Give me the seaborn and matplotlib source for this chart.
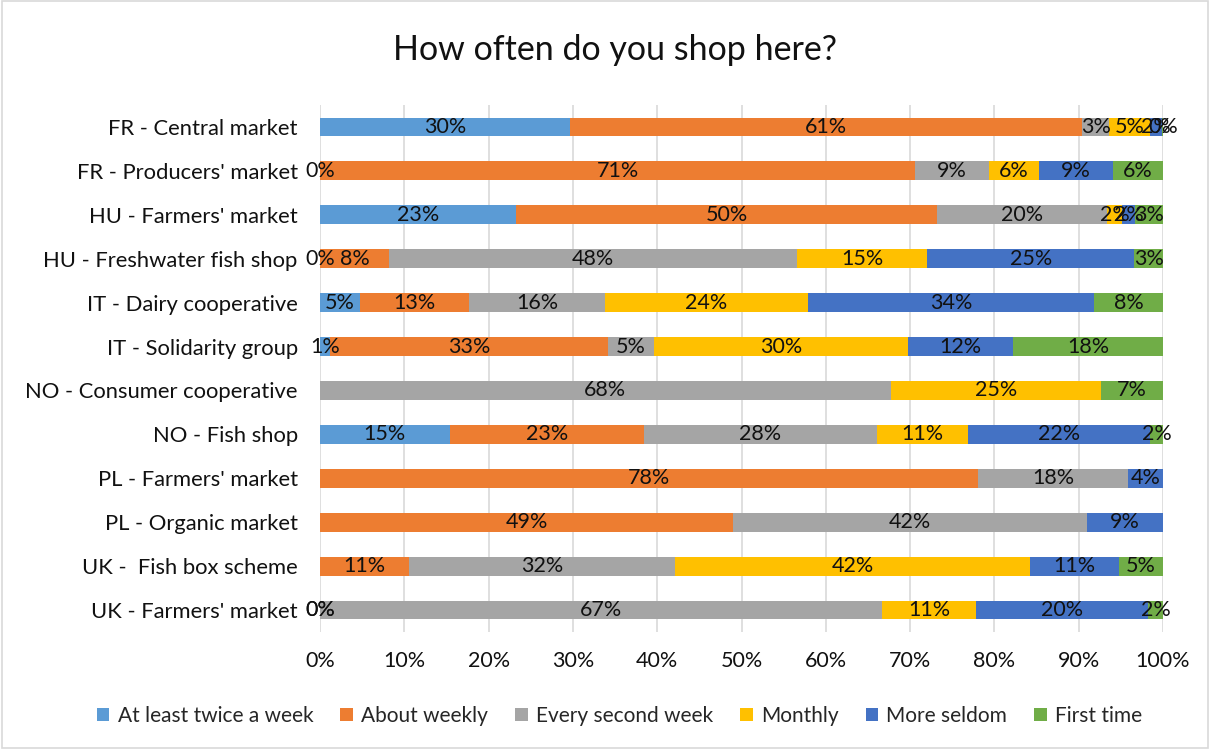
import numpy as np
import pandas as pd
import matplotlib
matplotlib.use("Agg")
import matplotlib.pyplot as plt
import seaborn as sns
from matplotlib.patches import Rectangle, Patch

nan = np.nan

categories = [
    "FR - Central market",
    "FR - Producers' market",
    "HU - Farmers' market",
    "HU - Freshwater fish shop",
    "IT - Dairy cooperative",
    "IT - Solidarity group",
    "NO - Consumer cooperative",
    "NO - Fish shop",
    "PL - Farmers' market",
    "PL - Organic market",
    "UK -  Fish box scheme",
    "UK - Farmers' market",
]
series_names = ["At least twice a week", "About weekly", "Every second week",
                "Monthly", "More seldom", "First time"]
at_least_twice = [29.6, 0.0, 23.3, 0.0, 4.7, 1.2, nan, 15.4, nan, nan, nan, 0.0]
about_weekly = [60.8, 70.6, 49.9, 8.2, 13.0, 33.0, nan, 23.0, 78.0, 49.0, 10.53, 0.0]
every_second = [3.2, 8.8, 20.2, 48.4, 16.1, 5.4, 67.7, 27.7, 17.9, 42.0, 31.58, 66.7]
monthly = [4.8, 5.9, 1.7, 15.4, 24.1, 30.2, 24.9, 10.8, nan, nan, 42.11, 11.1]
more_seldom = [1.5, 8.8, 1.6, 24.6, 33.9, 12.4, nan, 21.6, 4.1, 9.0, 10.53, 20.4]
first_time = [0.2, 5.9, 3.4, 3.4, 8.2, 17.8, 7.4, 1.5, nan, nan, 5.26, 1.8]
colors = ["#5B9BD5", "#ED7D31", "#A5A5A5", "#FFC000", "#4472C4", "#70AD47"]
tick_labels = ["0%", "10%", "20%", "30%", "40%", "50%", "60%", "70%", "80%", "90%", "100%"]

sns.set_theme(style="white")
plt.rcParams["font.family"] = ["Lato", "DejaVu Sans"]

series = [at_least_twice, about_weekly, every_second, monthly, more_seldom, first_time]
vals = np.array(series, dtype=float)  # shape (6, 12)
filled = np.nan_to_num(vals)
cum = np.cumsum(filled, axis=0)

fig = plt.figure(figsize=(12.1, 7.49), dpi=100)
ax = fig.add_axes([320 / 1210, 1 - 632 / 749, (1163 - 320) / 1210, (632 - 105) / 749])

# grid lines
for t in range(0, 101, 10):
    ax.axvline(t, color="#D9D9D9", lw=1.2, zorder=0)

# stacked bars via overlaid cumulative bars (drawn last-to-first)
for i in range(len(series) - 1, -1, -1):
    df = pd.DataFrame({"cat": categories, "val": cum[i]})
    sns.barplot(data=df, x="val", y="cat", orient="h", color=colors[i],
                width=0.43, saturation=1, ax=ax, zorder=2, linewidth=0)

# labels
for i in range(len(series)):
    for j, cat in enumerate(categories):
        v = vals[i, j]
        if np.isnan(v):
            continue
        center = cum[i, j] - filled[i, j] / 2
        ax.text(center, j, f"{v:.0f}%", ha="center", va="center",
                fontsize=15.5, color="#111111", zorder=5)

ax.set_xlim(0, 100)
ax.set_ylim(len(categories) - 0.5, -0.5)
ax.set_xticks(range(0, 101, 10))
ax.set_xticklabels(tick_labels, fontsize=15.5, color="#111111")
ax.tick_params(axis="x", pad=14, length=0)
ax.tick_params(axis="y", pad=16, length=0, labelsize=15.8, labelcolor="#111111")
ax.set_xlabel("")
ax.set_ylabel("")
for s in ax.spines.values():
    s.set_visible(False)

fig.text(0.508, 1 - 50 / 749, "How often do you shop here?", ha="center", va="center",
         fontsize=24.5, color="#111111")

handles = [Patch(facecolor=c, edgecolor="none") for c in colors]
fig.legend(handles, series_names, loc="center", bbox_to_anchor=(0.512, 1 - 716 / 749),
           ncol=6, frameon=False, fontsize=15, handlelength=0.6, handleheight=0.6,
           handletextpad=0.4, columnspacing=1.3)

fig.patches.append(Rectangle((0.002, 0.002), 0.996, 0.996, transform=fig.transFigure,
                             fill=False, edgecolor="#D9D9D9", lw=1.2))

fig.savefig("out.png", dpi=100)
